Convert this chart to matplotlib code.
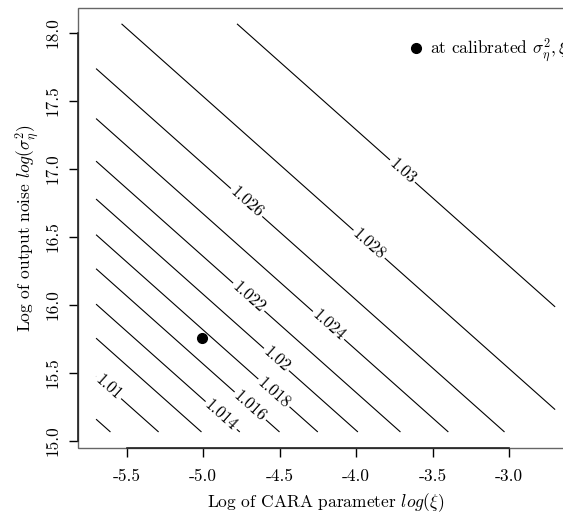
import numpy as np
import matplotlib
matplotlib.use("Agg")
import matplotlib.pyplot as plt
from matplotlib.lines import Line2D
from matplotlib.patches import Rectangle

plt.rcParams['font.family'] = ['cmr10', 'DejaVu Serif']
plt.rcParams['mathtext.fontset'] = 'cm'
plt.rcParams['axes.unicode_minus'] = False
plt.rcParams['axes.formatter.use_mathtext'] = True

# ---- data ----
# contour levels and where each level crosses (value of log(xi) + log(sigma^2))
levels = [1.008, 1.010, 1.012, 1.014, 1.016, 1.018, 1.020, 1.022, 1.024, 1.026, 1.028, 1.030]
level_pos = [9.46, 9.775, 10.055, 10.305, 10.565, 10.815, 11.077, 11.355, 11.668, 12.035, 12.53, 13.285]
x_range = [-5.7, -2.7]          # log(xi) grid extent
y_range = [15.066, 18.064]      # log(sigma_eta^2) grid extent
calib_x = [-5.005]
calib_y = [15.755]
label_x = [-5.62, -4.88, -4.69, -4.54, -4.52, -4.70, -4.18, -4.71, -3.92, -3.70]
label_y = [15.39, 15.19, 15.26, 15.35, 15.60, 16.06, 15.85, 16.76, 16.44, 16.98]
xticks = [-5.5, -5.0, -4.5, -4.0, -3.5, -3.0]
yticks = [15.0, 15.5, 16.0, 16.5, 17.0, 17.5, 18.0]

# ---- field ----
xs = np.linspace(x_range[0], x_range[1], 401)
ys = np.linspace(y_range[0], y_range[1], 401)
X, Y = np.meshgrid(xs, ys)
S = X + Y
pos = np.array(level_pos)
lev = np.array(levels)
Z = np.interp(S, pos, lev)
sl = (lev[1] - lev[0]) / (pos[1] - pos[0])
sr = (lev[-1] - lev[-2]) / (pos[-1] - pos[-2])
Z = np.where(S < pos[0], lev[0] + (S - pos[0]) * sl, Z)
Z = np.where(S > pos[-1], lev[-1] + (S - pos[-1]) * sr, Z)

FS = 12.5
W, H = 563, 514
fig = plt.figure(figsize=(W / 100, H / 100), dpi=100)
left, right, top, bottom = 77.7, 573.5, 7.5, 448.3
ax = fig.add_axes([left / W, 1 - bottom / H, (right - left) / W, (bottom - top) / H])

# data-range with R's 4% padding
dx = (x_range[1] - x_range[0]) * 0.04
dy = (y_range[1] - y_range[0]) * 0.04
ax.set_xlim(x_range[0] - dx, x_range[1] + dx)
ax.set_ylim(y_range[0] - dy, y_range[1] + dy)

cs = ax.contour(X, Y, Z, levels=levels, colors='black', linewidths=0.8)
ax.clabel(cs, levels=levels, fmt=lambda v: f"{round(v, 3):g}", fontsize=12,
          inline=True, inline_spacing=2,
          manual=list(zip(label_x, label_y)))

ax.plot(calib_x, calib_y, 'o', color='black', markersize=7)

h = Line2D([], [], marker='o', color='black', linestyle='none', markersize=7)
ax.legend([h], [r"at calibrated $\sigma_\eta^2,\xi$"], loc='center left',
          bbox_to_anchor=(0.668, 0.902), frameon=False, borderpad=0,
          borderaxespad=0, handlelength=0.85, handletextpad=0.35, fontsize=FS)

# axes styling like R
for s in ax.spines.values():
    s.set_visible(False)
ax.add_patch(Rectangle((0, 0), 1, 1, transform=ax.transAxes, fill=False,
                       ec='#666666', lw=1.0, clip_on=False, zorder=5))
ax.spines['left'].set_visible(True)
ax.spines['bottom'].set_visible(True)
ax.spines['left'].set_bounds(yticks[0], yticks[-1])
ax.spines['bottom'].set_bounds(xticks[0], xticks[-1])
for k in ('left', 'bottom'):
    ax.spines[k].set_color('#222222')
    ax.spines[k].set_linewidth(1.2)
    ax.spines[k].set_zorder(6)

ax.set_xticks(xticks)
ax.set_xticklabels([f"{v:.1f}" for v in xticks])
ax.set_yticks(yticks)
ax.set_yticklabels([f"{v:.1f}" for v in yticks], rotation=90, va='center')
ax.tick_params(direction='out', length=6.7, width=1.0, labelsize=FS, pad=8)
ax.tick_params(axis='y', pad=6)

ax.set_xlabel(r"Log of CARA parameter $log(\xi)$", fontsize=FS, labelpad=5)
ax.set_ylabel(r"Log of output noise $log(\sigma_\eta^2)$", fontsize=FS, labelpad=2.5)

fig.savefig("out.png", dpi=100)
